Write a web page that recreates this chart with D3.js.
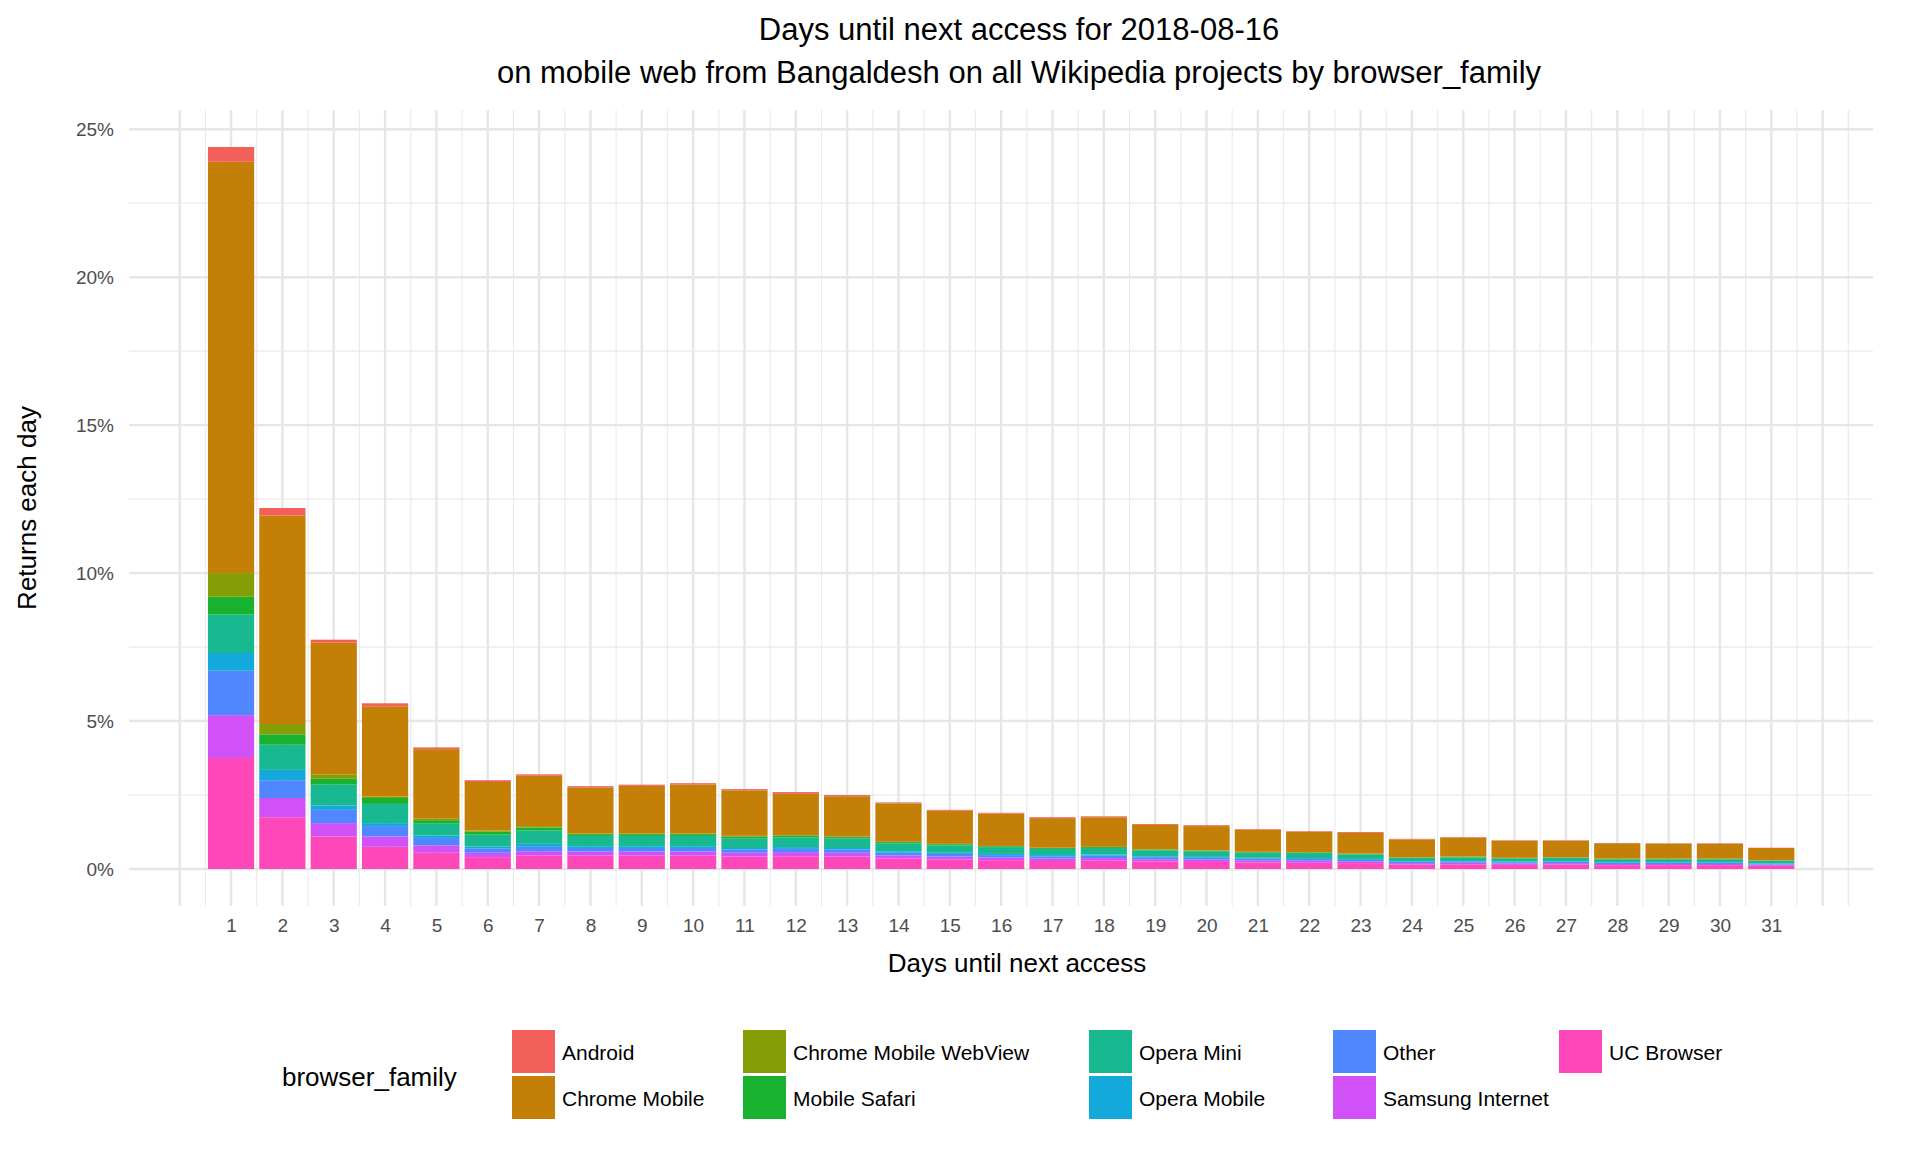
<!DOCTYPE html>
<html><head><meta charset="utf-8">
<script src="https://cdn.jsdelivr.net/npm/d3@7"></script>
<style>body{margin:0;background:#fff;font-family:"Liberation Sans",Arial,sans-serif;}</style>
</head><body><svg id="c" width="1920" height="1152"></svg>
<script>
const days = d3.range(1, 32);
const seriesNames = ["UC Browser","Samsung Internet","Other","Opera Mobile","Opera Mini","Mobile Safari","Chrome Mobile WebView","Chrome Mobile","Android"];
const ucBrowser =      [3.75,1.75,1.10,0.75,0.55,0.40,0.45,0.45,0.45,0.45,0.42,0.43,0.42,0.35,0.32,0.30,0.27,0.28,0.25,0.24,0.22,0.21,0.20,0.15,0.16,0.14,0.15,0.13,0.13,0.13,0.11];
const samsung =        [1.45,0.65,0.45,0.35,0.25,0.15,0.15,0.14,0.14,0.14,0.13,0.14,0.13,0.11,0.10,0.09,0.09,0.09,0.08,0.08,0.07,0.07,0.06,0.05,0.05,0.05,0.05,0.04,0.04,0.04,0.04];
const other =          [1.50,0.60,0.45,0.35,0.25,0.15,0.15,0.12,0.12,0.12,0.11,0.11,0.11,0.09,0.09,0.08,0.07,0.08,0.07,0.06,0.06,0.06,0.05,0.04,0.04,0.04,0.04,0.04,0.04,0.04,0.03];
const operaMobile =    [0.60,0.35,0.15,0.10,0.08,0.06,0.10,0.06,0.06,0.06,0.05,0.06,0.05,0.05,0.04,0.04,0.04,0.04,0.03,0.03,0.03,0.03,0.03,0.02,0.02,0.02,0.02,0.02,0.02,0.02,0.02];
const operaMini =      [1.30,0.85,0.70,0.65,0.40,0.40,0.45,0.35,0.35,0.35,0.33,0.33,0.32,0.27,0.25,0.23,0.21,0.22,0.20,0.19,0.17,0.17,0.15,0.12,0.12,0.11,0.12,0.10,0.10,0.10,0.08];
const mobileSafari =   [0.60,0.35,0.20,0.20,0.12,0.10,0.10,0.06,0.06,0.06,0.06,0.06,0.05,0.04,0.04,0.03,0.03,0.03,0.03,0.02,0.02,0.02,0.02,0.01,0.02,0.01,0.01,0.01,0.01,0.01,0.01];
const chromeWebView =  [0.80,0.35,0.15,0.05,0.05,0.04,0.05,0.02,0.02,0.02,0.02,0.02,0.02,0.01,0.01,0.01,0.01,0.01,0.01,0.01,0.01,0.01,0.01,0.01,0.01,0.01,0.01,0.01,0.01,0.01,0.01];
const chromeMobile =   [13.9,7.05,4.45,3.05,2.35,1.64,1.70,1.56,1.61,1.65,1.54,1.39,1.36,1.30,1.12,1.09,1.00,1.00,0.82,0.82,0.75,0.69,0.70,0.60,0.64,0.57,0.55,0.52,0.51,0.50,0.41];
const android =        [0.50,0.25,0.10,0.10,0.06,0.06,0.05,0.04,0.04,0.05,0.04,0.06,0.04,0.03,0.03,0.03,0.03,0.03,0.03,0.03,0.02,0.02,0.03,0.02,0.02,0.02,0.02,0.01,0.01,0.02,0.01];
const seriesValues = [ucBrowser,samsung,other,operaMobile,operaMini,mobileSafari,chromeWebView,chromeMobile,android];
const colors = ["#FE47B8","#D052F7","#5087FF","#13A9DB","#18B990","#18B22E","#859E05","#C47F06","#F3605A"];
const yTicks = [0,5,10,15,20,25];
const legendOrder = ["Android","Chrome Mobile","Chrome Mobile WebView","Mobile Safari","Opera Mini","Opera Mobile","Other","Samsung Internet","UC Browser"];

const svg = d3.select("#c");
const x = d3.scaleLinear().domain([0,32.5]).range([179.7,1848.3]);
const y = d3.scaleLinear().domain([-1.25,25.65]).range([906,110]);
const g = svg.append("g");
// gridlines
const gridX0 = 129, gridX1 = 1873;
d3.range(2.5,25.1,5).forEach(v=>g.append("line").attr("x1",gridX0).attr("x2",gridX1).attr("y1",y(v)).attr("y2",y(v)).attr("stroke","#ebebeb").attr("stroke-width",1.2));
d3.range(0.5,32.6,1).forEach(v=>g.append("line").attr("x1",x(v)).attr("x2",x(v)).attr("y1",110).attr("y2",906).attr("stroke","#ebebeb").attr("stroke-width",1.2));
yTicks.forEach(v=>g.append("line").attr("x1",gridX0).attr("x2",gridX1).attr("y1",y(v)).attr("y2",y(v)).attr("stroke","#e6e6e6").attr("stroke-width",2.4));
d3.range(0,33,1).forEach(v=>g.append("line").attr("x1",x(v)).attr("x2",x(v)).attr("y1",110).attr("y2",906).attr("stroke","#e6e6e6").attr("stroke-width",2.4));

// stacks
const table = days.map((d,i)=>{const o={day:d}; seriesNames.forEach((s,j)=>o[s]=seriesValues[j][i]); return o;});
const stack = d3.stack().keys(seriesNames)(table);
const bw = (x(1)-x(0))*0.9;
stack.forEach((layer,j)=>{
  g.selectAll(null).data(layer).join("rect")
   .attr("x",d=>x(d.data.day)-bw/2).attr("width",bw)
   .attr("y",d=>y(d[1])).attr("height",d=>Math.max(0,y(d[0])-y(d[1])))
   .attr("fill",colors[j]);
});

// axes text
const yAxis = d3.axisLeft(y).tickValues(yTicks).tickFormat(d=>d+"%").tickSize(0).tickPadding(0);
const ya = svg.append("g").attr("transform","translate(114,0)").call(yAxis);
ya.select(".domain").remove();
ya.selectAll("text").attr("font-size",19).attr("fill","#4d4d4d").attr("font-family","Liberation Sans, Arial, sans-serif");
const xAxis = d3.axisBottom(x).tickValues(days).tickFormat(d3.format("d")).tickSize(0).tickPadding(0);
const xa = svg.append("g").attr("transform","translate(0,918)").call(xAxis);
xa.select(".domain").remove();
xa.selectAll("text").attr("font-size",19).attr("fill","#4d4d4d").attr("font-family","Liberation Sans, Arial, sans-serif");

svg.append("text").attr("x",1017).attr("y",972).attr("text-anchor","middle").attr("font-size",26).text("Days until next access");
svg.append("text").attr("transform","translate(36,508) rotate(-90)").attr("text-anchor","middle").attr("font-size",26).text("Returns each day");
svg.append("text").attr("x",1019).attr("y",40).attr("text-anchor","middle").attr("font-size",31).text("Days until next access for 2018-08-16");
svg.append("text").attr("x",1019).attr("y",83).attr("text-anchor","middle").attr("font-size",31).text("on mobile web from Bangaldesh on all Wikipedia projects by browser_family");

// legend
svg.append("text").attr("x",282).attr("y",1086).attr("font-size",26).text("browser_family");
const colX = [512,743,1089,1333,1559];
legendOrder.forEach((name,i)=>{
  const col = Math.floor(i/2), row = i%2;
  const cx = colX[col], cy = 1030 + row*46;
  const lg = svg.append("g");
  lg.append("rect").attr("x",cx).attr("y",cy).attr("width",43).attr("height",43).attr("fill",colors[seriesNames.indexOf(name)]);
  lg.append("text").attr("x",cx+50).attr("y",cy+30).attr("font-size",21).text(name);
});
</script></body></html>
